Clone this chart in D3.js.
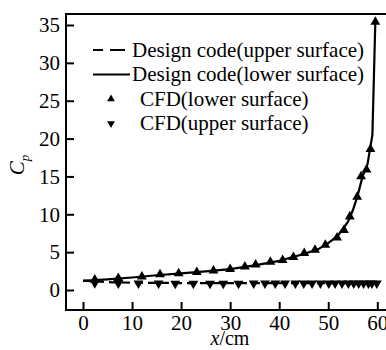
<!DOCTYPE html>
<meta charset="utf-8">
<style>
  body { margin: 0; background: #fff; }
  svg text { font-family: "Liberation Serif", "DejaVu Serif", "Times New Roman", Times, serif; fill: #000; }
  .axis text { font-size: 21px; }
  .axis line { stroke: #000; stroke-width: 2px; }
</style>
<div class="chart"></div>
<script src="https://cdn.jsdelivr.net/npm/d3@7"></script>
<script>
  // design code curves
  var codeX = [0, 5, 10, 15, 20, 25, 30, 35, 40, 45, 48, 50, 52, 54, 55, 56, 57, 58, 59, 59.6];
  var codeLower = [1.2, 1.4, 1.65, 1.95, 2.2, 2.45, 2.75, 3.25, 3.85, 4.75, 5.4, 6.2, 7.2, 9.0, 10.5, 12.5, 15.0, 16.6, 20.5, 35.5];
  var codeUpperX = [0, 3, 6, 10, 20, 30, 40, 50, 60];
  var codeUpper = [1.25, 1.12, 1.02, 0.96, 0.92, 0.91, 0.9, 0.9, 0.9];

  // CFD points
  var cfdLowerX = [2.4, 7.2, 12, 15.7, 19.5, 23.2, 26.6, 30, 33, 35.2, 38.2, 40.7, 42.9, 45.1, 47.3, 49.4, 51.8, 53.2, 54.4, 55.9, 56.7, 57.8, 58.6, 59.6];
  var cfdLower = [1.35, 1.55, 1.76, 2.05, 2.2, 2.35, 2.55, 2.75, 3.08, 3.35, 3.7, 3.95, 4.35, 4.85, 5.3, 5.95, 6.9, 7.9, 9.7, 12.3, 15.0, 15.9, 18.6, 35.4];
  var cfdUpperX = [2.4, 7.2, 11.3, 15.4, 18.8, 22.5, 25.9, 28.6, 31.7, 34.8, 37.1, 39.2, 41.2, 43.3, 45, 46.7, 48.4, 50.1, 51.4, 52.8, 54.1, 55.2, 56.2, 57.2, 58.2, 58.9, 59.9];
  var cfdUpper = [0.92, 0.88, 0.87, 0.87, 0.86, 0.86, 0.86, 0.86, 0.86, 0.87, 0.87, 0.87, 0.87, 0.87, 0.87, 0.87, 0.87, 0.87, 0.87, 0.87, 0.87, 0.87, 0.87, 0.87, 0.87, 0.87, 0.87];

  var xTicks = [0, 10, 20, 30, 40, 50, 60];
  var yTicks = [0, 5, 10, 15, 20, 25, 30, 35];

  var legendLabels = ["Design code(upper surface)", "Design code(lower surface)", "CFD(lower surface)", "CFD(upper surface)"];

  var width = 386, height = 350;
  var frame = {left: 66, top: 14, bottom: 310, right: 392};

  var x = d3.scaleLinear().domain([0, 60]).range([83, 377.3]);
  var y = d3.scaleLinear().domain([0, 35]).range([290, 25]);

  var svg = d3.select('.chart').append('svg')
      .attr('width', width)
      .attr('height', height);

  // frame (right side runs off the picture, as in the original)
  svg.append('rect')
      .attr('x', frame.left).attr('y', frame.top)
      .attr('width', frame.right - frame.left)
      .attr('height', frame.bottom - frame.top)
      .attr('fill', 'none').attr('stroke', '#000').attr('stroke-width', 2);

  svg.append('g')
      .attr('class', 'x axis')
      .attr('transform', 'translate(0,' + frame.bottom + ')')
      .call(d3.axisBottom(x).tickValues(xTicks).tickSize(-8).tickPadding(5))
      .call(g => g.select('.domain').remove())
      .attr('font-family', null);

  svg.append('g')
      .attr('class', 'y axis')
      .attr('transform', 'translate(' + frame.left + ',0)')
      .call(d3.axisLeft(y).tickValues(yTicks).tickSize(-8).tickPadding(6))
      .call(g => g.select('.domain').remove())
      .attr('font-family', null);

  var line = d3.line().x(d => x(d[0])).y(d => y(d[1]));

  svg.append('path')
      .datum(d3.zip(codeUpperX, codeUpper))
      .attr('d', line)
      .attr('fill', 'none').attr('stroke', '#000').attr('stroke-width', 2.2)
      .attr('stroke-dasharray', '8,5');

  svg.append('path')
      .datum(d3.zip(codeX, codeLower))
      .attr('d', line)
      .attr('fill', 'none').attr('stroke', '#000').attr('stroke-width', 2.2);

  var tri = d3.symbol().type(d3.symbolTriangle).size(42);

  svg.append('g').selectAll('path')
      .data(d3.zip(cfdLowerX, cfdLower))
      .join('path')
      .attr('d', tri)
      .attr('transform', d => 'translate(' + x(d[0]) + ',' + y(d[1]) + ')')
      .attr('fill', '#000');

  svg.append('g').selectAll('path')
      .data(d3.zip(cfdUpperX, cfdUpper))
      .join('path')
      .attr('d', tri)
      .attr('transform', d => 'translate(' + x(d[0]) + ',' + y(d[1]) + ') rotate(180)')
      .attr('fill', '#000');

  // legend
  var legend = svg.append('g').attr('class', 'legend');
  var rowY = d => 50 + d * 24.5;
  legendLabels.forEach(function(label, i) {
    var g = legend.append('g').attr('transform', 'translate(0,' + rowY(i) + ')');
    if (i < 2) {
      g.append('line')
          .attr('x1', 93).attr('x2', i === 0 ? 125 : 130).attr('y1', 0).attr('y2', 0)
          .attr('stroke', '#000').attr('stroke-width', 2)
          .attr('stroke-dasharray', i === 0 ? '10,7,15' : null);
    } else {
      g.append('path')
          .attr('d', d3.symbol().type(d3.symbolTriangle).size(26))
          .attr('transform', 'translate(111,0)' + (i === 3 ? ' rotate(180)' : ''))
          .attr('fill', '#000');
    }
    g.append('text')
        .attr('x', i < 2 ? 132 : 140)
        .attr('y', 0)
        .attr('dy', '0.33em')
        .style('font-size', '21px')
        .text(label);
  });

  // axis titles
  var xl = svg.append('text')
      .attr('x', 230).attr('y', 345)
      .attr('text-anchor', 'middle')
      .style('font-size', '20px');
  xl.append('tspan').style('font-style', 'italic').text('x');
  xl.append('tspan').text('/cm');

  var yl = svg.append('text')
      .attr('transform', 'translate(24,165) rotate(-90)')
      .attr('text-anchor', 'middle')
      .style('font-size', '21px')
      .style('font-style', 'italic');
  yl.append('tspan').text('C');
  yl.append('tspan').attr('dy', 5).style('font-size', '13px').text('p');
</script>
